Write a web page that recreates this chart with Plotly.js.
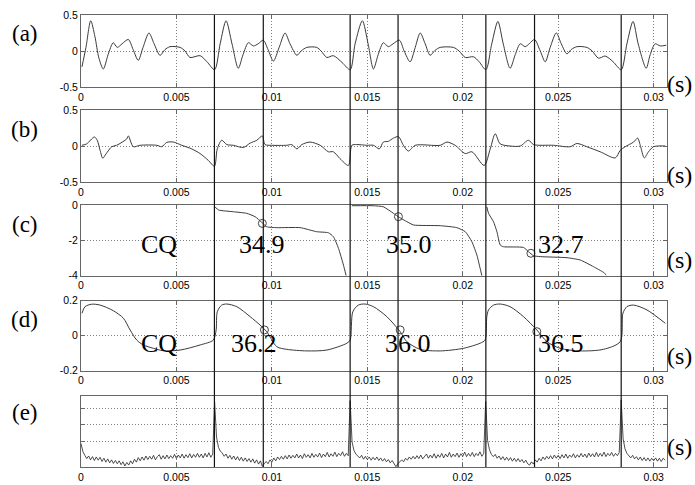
<!DOCTYPE html>
<html><head><meta charset="utf-8">
<script src="https://cdn.plot.ly/plotly-3.0.1.min.js"></script>
<style>html,body{margin:0;padding:0;background:#fff}#chart{width:695px;height:485px}</style>
</head><body><div id="chart"></div>
<script>
// ---- data (time in seconds) ----
const xTickVals = [0, 0.005, 0.01, 0.015, 0.02, 0.025, 0.03];
const xTickText = ["0", "0.005", "0.01", "0.015", "0.02", "0.025", "0.03"];
const markerTimes = [0.00699, 0.00955, 0.01410, 0.01661, 0.02121, 0.02376, 0.02830];

const aT = [0.00005,0.00026,0.00051,0.00073,0.00094,0.00117,0.00142,0.00169,0.00190,0.00215,0.00248,0.00273,0.00300,0.00325,0.00356,0.00383,0.00414,0.00440,0.00466,0.00519,0.00545,0.00571,0.00624,0.00660,0.00700,
0.00729,0.00760,0.00791,0.00824,0.00849,0.00877,0.00903,0.00928,0.00955,0.00980,0.01008,0.01038,0.01069,0.01095,0.01131,0.01153,0.01183,0.01235,0.01258,0.01288,0.01322,0.01368,0.01410,
0.01436,0.01474,0.01504,0.01532,0.01557,0.01584,0.01610,0.01635,0.01668,0.01693,0.01724,0.01751,0.01777,0.01803,0.01829,0.01855,0.01882,0.01951,0.01981,0.02013,0.02056,0.02086,0.02121,
0.02152,0.02184,0.02212,0.02248,0.02275,0.02301,0.02327,0.02348,0.02376,0.02406,0.02432,0.02458,0.02490,0.02516,0.02546,0.02568,0.02598,0.02650,0.02678,0.02711,0.02746,0.02788,0.02830,
0.02860,0.02892,0.02919,0.02961,0.02982,0.03008,0.03035,0.03066];
const aV = [-0.22,0.05,0.42,0.2,-0.1,-0.25,-0.05,0.115,0.05,0.1,0.16,0.02,-0.13,0.05,0.25,0.1,-0.06,0.02,0.06,0.05,0.0,-0.09,-0.065,-0.15,-0.26,
0.1,0.42,0.1,-0.24,-0.05,0.115,0.07,0.1,0.15,0.02,-0.14,0.05,0.25,0.1,-0.06,0.0,0.05,0.05,0.0,-0.09,-0.065,-0.16,-0.26,
0.1,0.42,0.1,-0.25,-0.05,0.115,0.06,0.1,0.15,0.0,-0.15,0.05,0.25,0.1,-0.06,0.01,0.05,0.05,0.0,-0.09,-0.08,-0.15,-0.26,
0.1,0.41,0.1,-0.24,-0.05,0.1,0.06,0.1,0.16,0.0,-0.15,0.05,0.25,0.1,-0.04,0.02,0.06,0.05,0.0,-0.1,-0.07,-0.15,-0.26,
0.1,0.41,0.1,-0.24,-0.05,0.1,0.07,0.08];

const bT = [0.00005,0.00030,0.00070,0.00085,0.00100,0.00114,0.00131,0.00161,0.00187,0.00240,0.00248,0.00274,0.00309,0.00397,0.00423,0.00449,0.00484,0.00528,0.00580,0.00624,0.00667,0.00699,
0.00714,0.00737,0.00764,0.00798,0.00851,0.00886,0.00921,0.00950,0.00964,0.00999,0.01078,0.01104,0.01131,0.01157,0.01200,0.01253,0.01296,0.01322,0.01357,0.01401,
0.01419,0.01445,0.01497,0.01532,0.01563,0.01584,0.01610,0.01637,0.01663,0.01689,0.01715,0.01751,0.01882,0.01917,0.01960,0.02013,0.02048,0.02112,
0.02144,0.02170,0.02196,0.02248,0.02301,0.02344,0.02371,0.02475,0.02563,0.02598,0.02650,0.02720,0.02799,0.02825,
0.02851,0.02895,0.02916,0.02930,0.02951,0.02973,0.02999,0.03061];
const bV = [0.01,0.03,0.125,0.08,-0.06,-0.17,-0.11,-0.01,0.01,0.1,0.14,-0.01,0.01,0.01,-0.01,0.05,0.055,0.01,-0.04,-0.105,-0.2,-0.28,
-0.04,0.08,0.02,0.01,-0.02,0.04,0.08,0.14,0.02,0.01,0.01,0.02,-0.04,0.02,0.055,0.01,-0.08,-0.08,-0.175,-0.27,
0.01,0.02,0.01,0.01,-0.04,0.055,0.065,0.11,0.13,0.01,-0.07,0.01,0.01,0.055,0.01,-0.105,-0.08,-0.27,
-0.04,0.17,0.03,0.0,0.0,0.08,0.02,0.01,-0.01,0.035,-0.01,-0.08,-0.165,-0.06,
-0.01,0.055,0.11,0.01,-0.165,-0.08,-0.01,0.0];

const cT = [0.00702,0.00720,0.00798,0.00868,0.00912,0.00947,0.00973,0.01026,0.01148,0.01235,0.01296,0.01322,0.01349,0.01375,0.01389,null,
0.01419,0.01532,0.01584,0.01637,0.01668,0.01707,0.01742,0.01882,0.01969,0.02013,0.02048,0.02074,0.02091,0.02100,null,
0.02126,0.02135,0.02161,0.02179,0.02196,0.02213,0.02318,0.02344,0.02371,0.02406,0.02546,0.02615,0.02685,0.02737,0.02752];
const cV = [-0.1,-0.28,-0.38,-0.47,-0.66,-0.98,-1.23,-1.28,-1.28,-1.51,-1.57,-1.79,-2.45,-3.4,-4.0,null,
-0.04,-0.04,-0.1,-0.47,-0.7,-0.94,-1.13,-1.17,-1.28,-1.51,-2.08,-2.83,-3.58,-4.0,null,
-0.1,-0.47,-0.94,-1.51,-2.26,-2.36,-2.4,-2.64,-2.87,-2.92,-2.98,-3.11,-3.49,-3.81,-3.96];
const cCircT = [0.00950, 0.01663, 0.02357];
const cCircV = [-1.04, -0.66, -2.73];
const cLabels = ["CQ", "34.9", "35.0", "32.7"];

const dT = [0.00005,0.00021,0.00056,0.00100,0.00169,0.00222,0.00257,0.00292,0.00327,0.00379,0.00431,0.00519,0.00624,0.00693,
0.00708,0.00714,0.00737,0.00764,0.00816,0.00886,0.00938,0.00973,0.01026,0.01078,0.01183,0.01288,0.01393,0.01410,
0.01424,0.01453,0.01488,0.01532,0.01602,0.01672,0.01707,0.01777,0.01882,0.02004,0.02091,0.02117,
0.02126,0.02135,0.02161,0.02196,0.02248,0.02318,0.02388,0.02441,0.02510,0.02615,0.02737,0.02825,
0.02839,0.02860,0.02895,0.02965,0.03061];
const dV = [0.128,0.166,0.18,0.175,0.143,0.1,0.033,-0.025,-0.053,-0.072,-0.086,-0.082,-0.053,-0.025,
0.033,0.137,0.175,0.181,0.166,0.109,0.061,0.023,-0.063,-0.078,-0.087,-0.082,-0.043,-0.025,
0.137,0.175,0.181,0.166,0.109,0.023,-0.034,-0.078,-0.087,-0.072,-0.043,-0.025,
0.109,0.147,0.175,0.181,0.166,0.109,0.033,-0.034,-0.072,-0.087,-0.078,-0.034,
0.128,0.166,0.175,0.147,0.071];
const dCircT = [0.00961, 0.01672, 0.02388];
const dCircV = [0.033, 0.033, 0.023];
const dLabels = ["CQ", "36.2", "36.0", "36.5"];

// (e) sampled every 0.1 ms starting at 0 (unlabelled axis)
const eStart = 0, eStep = 0.0001;
const eV = [0.95,0.45,0.22,0.02,0.18,-0.06,0.14,-0.1,0.12,-0.08,
0.1,-0.16,0.04,-0.2,0.0,-0.24,-0.06,-0.28,-0.1,-0.3,
-0.12,-0.36,-0.18,-0.44,-0.22,-0.38,-0.12,-0.3,-0.02,-0.2,
0.08,-0.12,0.12,-0.08,0.18,-0.04,0.16,-0.02,0.22,-0.06,
0.14,0.26,-0.02,0.2,0.0,0.24,0.02,0.2,0.04,0.28,
0.02,0.24,0.06,0.3,0.04,0.26,0.08,0.32,0.06,0.28,
0.1,0.34,0.1,0.3,0.06,0.34,0.12,0.38,0.1,0.3,
3.5,1.35,0.72,0.48,0.36,0.16,0.3,0.04,0.22,-0.02,
0.18,-0.06,0.14,-0.1,0.1,-0.14,0.06,-0.16,0.02,-0.2,
0.0,-0.26,-0.06,-0.32,-0.12,-0.46,-0.3,-0.16,-0.3,-0.06,
-0.2,0.06,-0.12,0.12,-0.04,0.16,-0.02,0.2,0.0,0.24,
0.04,0.22,0.06,0.3,0.06,0.24,0.02,0.32,0.1,0.26,
0.06,0.34,0.1,0.28,0.12,0.36,0.08,0.3,0.14,0.4,
0.12,0.32,0.16,0.42,0.14,0.34,0.2,0.44,0.16,0.34,
0.2,3.6,1.05,0.52,0.3,0.16,0.06,0.22,-0.02,0.16,
-0.04,0.12,-0.08,0.1,-0.06,0.12,-0.1,0.06,-0.14,0.02,
-0.18,-0.04,-0.24,-0.1,-0.34,-0.48,-0.3,-0.16,-0.06,-0.18,
0.04,-0.08,0.12,-0.02,0.16,0.0,0.2,0.02,0.24,0.0,
0.18,0.3,0.04,0.24,0.06,0.32,0.04,0.26,0.1,0.34,
0.06,0.3,0.12,0.4,0.1,0.3,0.14,0.36,0.1,0.32,
0.16,0.42,0.14,0.34,0.16,0.4,0.14,0.34,0.2,0.44,
0.16,0.34,3.55,1.15,0.56,0.28,0.14,0.28,0.04,0.18,
-0.04,0.14,-0.08,0.1,-0.1,0.08,-0.14,0.04,-0.16,0.02,
-0.18,-0.04,-0.24,-0.08,-0.3,-0.38,-0.18,-0.32,-0.06,-0.2,
0.04,-0.12,0.12,-0.04,0.16,0.0,0.2,0.0,0.24,0.04,
0.22,0.02,0.26,0.06,0.3,0.04,0.24,0.1,0.32,0.06,
0.26,0.1,0.34,0.12,0.3,0.08,0.36,0.14,0.32,0.12,
0.4,0.14,0.34,0.16,0.42,0.14,0.34,0.2,0.4,0.16,
0.34,0.2,0.4,3.65,1.25,0.62,0.34,0.22,0.06,0.22,
0.0,0.14,-0.06,0.12,-0.1,0.08,-0.12,0.06,-0.14,0.04,
-0.12,0.06,-0.14,0.04,-0.16,0.04,-0.08];

// ---- styling / layout ----
const lineCol = '#3a3a3a';
const tickFont = {family: '"Liberation Sans", Arial, sans-serif', size: 10.5, color: '#000'};
const serif = '"Liberation Serif", "Times New Roman", Times, serif';
const domains = [[0.8407, 1.0], [0.6305, 0.7898], [0.4232, 0.5796], [0.2131, 0.3679], [0.0, 0.1577]];
const gridDash = '1px,2px';

function xAx(anchor) {
  return {domain: [0, 1], anchor: anchor, range: [0, 0.0307], tickvals: xTickVals, ticktext: xTickText,
    showline: true, mirror: 'ticks', linecolor: '#666', linewidth: 1, ticks: 'inside', ticklen: 4, tickcolor: '#666',
    showgrid: true, gridcolor: '#808080', griddash: gridDash, gridwidth: 1, zeroline: false, tickfont: tickFont, fixedrange: true};
}
function yAx(anchor, dom, range, tv, tt, showLabels) {
  return {domain: dom, anchor: anchor, range: range, tickvals: tv, ticktext: tt, showticklabels: showLabels,
    showline: true, mirror: 'ticks', linecolor: '#666', linewidth: 1, ticks: 'inside', ticklen: 4, tickcolor: '#666',
    showgrid: true, gridcolor: '#808080', griddash: gridDash, gridwidth: 1, zeroline: false, tickfont: tickFont, fixedrange: true};
}

const traces = [
  {x: aT, y: aV, xaxis: 'x', yaxis: 'y', mode: 'lines', line: {color: lineCol, width: 1, shape: 'spline', smoothing: 0.8}},
  {x: bT, y: bV, xaxis: 'x2', yaxis: 'y2', mode: 'lines', line: {color: lineCol, width: 1, shape: 'spline', smoothing: 0.8}},
  {x: cT, y: cV, xaxis: 'x3', yaxis: 'y3', mode: 'lines', line: {color: lineCol, width: 1, shape: 'spline', smoothing: 0.5}, connectgaps: false},
  {x: cCircT, y: cCircV, xaxis: 'x3', yaxis: 'y3', mode: 'markers', marker: {symbol: 'circle-open', size: 8, color: '#444', line: {width: 1}}},
  {x: dT, y: dV, xaxis: 'x4', yaxis: 'y4', mode: 'lines', line: {color: lineCol, width: 1, shape: 'spline', smoothing: 0.8}},
  {x: dCircT, y: dCircV, xaxis: 'x4', yaxis: 'y4', mode: 'markers', marker: {symbol: 'circle-open', size: 8, color: '#444', line: {width: 1}}},
  {x0: eStart, dx: eStep, y: eV, xaxis: 'x5', yaxis: 'y5', mode: 'lines', line: {color: '#222', width: 0.8}}
];

const shapes = markerTimes.map(t => ({type: 'line', xref: 'x', yref: 'paper', x0: t, x1: t, y0: 0, y1: 1,
  line: {color: '#111', width: 1.2}}));

const annotations = [];
const panelNames = ['(a)', '(b)', '(c)', '(d)', '(e)'];
const panelY = [0.960, 0.7456, 0.5354, 0.3274, 0.1195];
const sY = [0.8473, 0.646, 0.458, 0.2456, 0.0442];
panelNames.forEach((p, i) => {
  annotations.push({text: p, xref: 'paper', yref: 'paper', x: -0.0956, y: panelY[i], xanchor: 'center', yanchor: 'middle',
    showarrow: false, font: {family: serif, size: 23, color: '#000'}});
  annotations.push({text: '(s)', xref: 'paper', yref: 'paper', x: 1.022, y: sY[i], xanchor: 'center', yanchor: 'middle',
    showarrow: false, font: {family: serif, size: 24, color: '#000'}});
});
const cLabX = [0.00411, 0.00946, 0.01717, 0.02515];
const dLabX = [0.00409, 0.00907, 0.01714, 0.02516];
cLabels.forEach((s, i) => annotations.push({text: s, xref: 'x3', yref: 'y3', x: cLabX[i], y: -2.25, xanchor: 'center', yanchor: 'middle',
  showarrow: false, font: {family: serif, size: 26, color: '#000'}}));
dLabels.forEach((s, i) => annotations.push({text: s, xref: 'x4', yref: 'y4', x: dLabX[i], y: -0.045, xanchor: 'center', yanchor: 'middle',
  showarrow: false, font: {family: serif, size: 26, color: '#000'}}));

const layout = {
  width: 695, height: 485, margin: {l: 81, r: 28, t: 15, b: 18},
  paper_bgcolor: '#fff', plot_bgcolor: '#fff', showlegend: false,
  xaxis: xAx('y'), xaxis2: xAx('y2'), xaxis3: xAx('y3'), xaxis4: xAx('y4'), xaxis5: xAx('y5'),
  yaxis: yAx('x', domains[0], [-0.5, 0.5], [-0.5, 0, 0.5], ['-0.5', '0', '0.5'], true),
  yaxis2: yAx('x2', domains[1], [-0.5, 0.5], [-0.5, 0, 0.5], ['-0.5', '0', '0.5'], true),
  yaxis3: yAx('x3', domains[2], [-4, 0], [-4, -2, 0], ['-4', '-2', '0'], true),
  yaxis4: yAx('x4', domains[3], [-0.2, 0.2], [-0.2, 0, 0.2], ['-0.2', '0', '0.2'], true),
  yaxis5: yAx('x5', domains[4], [-0.5, 3.9], [1.1, 2.1, 3.1], ['', '', ''], false),
  shapes: shapes, annotations: annotations
};
Plotly.newPlot('chart', traces, layout, {displayModeBar: false, staticPlot: true});
</script></body></html>
